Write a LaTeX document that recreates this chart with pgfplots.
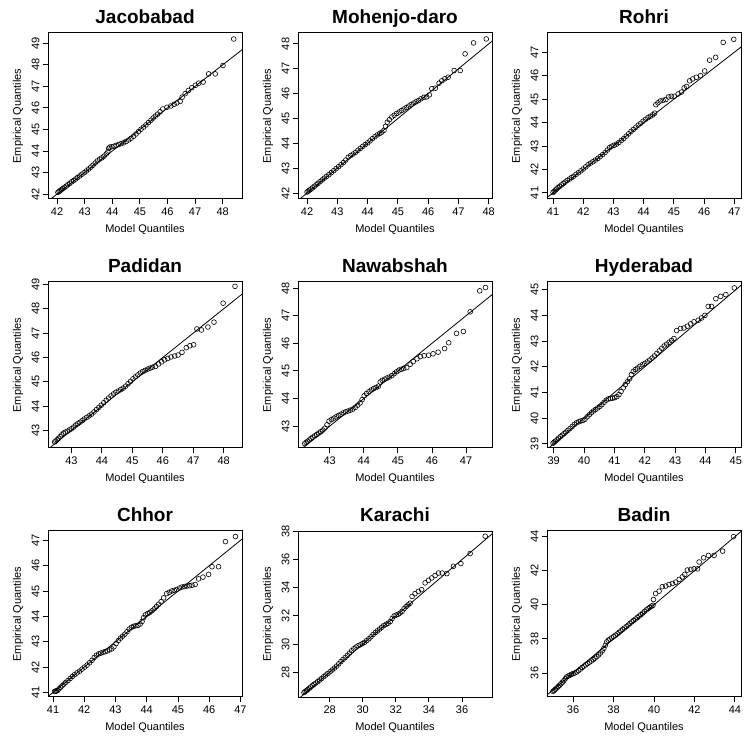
\documentclass[border=0pt]{standalone}
\usepackage{fontspec}
\setmainfont{Liberation Sans}
\usepackage{pgfplots}
\pgfplotsset{compat=1.18}
\newcommand{\lblfont}{\fontsize{11}{13}\selectfont}
\pgfplotsset{
 qq/.style={
  scale only axis, width=194pt, height=166pt, anchor=south west,
  axis line style={line width=1pt},
  tick align=outside, xtick pos=left, ytick pos=left,
  major tick length=5pt,
  every tick/.style={black, line width=0.9pt},
  minor tick num=0, scaled ticks=false,
  /pgf/number format/assume math mode=true,
  yticklabel style={rotate=90, anchor=south, font=\lblfont},
  xticklabel style={anchor=north, font=\lblfont},
  every axis x label/.style={at={(axis description cs:0.5,-0.187)}, anchor=center, font=\lblfont},
  every axis y label/.style={at={(axis description cs:-0.155,0.5)}, rotate=90, anchor=center, font=\lblfont},
  every axis title/.style={at={(axis description cs:0.5,1.06)}, anchor=base, font=\bfseries\fontsize{19}{21}\selectfont},
  xlabel={Model Quantiles}, ylabel={Empirical Quantiles},
 },
 pts/.style={only marks, mark=o, mark size=2.4pt, mark options={line width=0.6pt, black}},
 refl/.style={black, line width=0.8pt, no marks},
}
\begin{document}
\begin{tikzpicture}
\path[use as bounding box] (0,0) rectangle (744pt,742pt);
% ---------- Jacobabad
\begin{axis}[qq, at={(48pt,543pt)}, title={Jacobabad},
 xmin=41.67, xmax=48.70, ymin=41.77, ymax=49.48, xtick={42,43,...,48}, ytick={42,43,...,49}]
\addplot[refl] coordinates {(30,30) (60,60)};
\addplot[pts] coordinates {
(42.03,42.08) (42.07,42.12) (42.11,42.16) (42.16,42.21) (42.21,42.26) (42.27,42.31) (42.33,42.37) (42.39,42.43) (42.46,42.50) (42.53,42.57) (42.60,42.63) (42.67,42.70) (42.74,42.77) (42.82,42.84) (42.90,42.92) (42.98,42.99) (43.06,43.07) (43.14,43.16) (43.22,43.25) (43.30,43.34) (43.38,43.44) (43.46,43.54) (43.54,43.62) (43.62,43.68) (43.70,43.76) (43.78,43.86) (43.84,43.96) (43.87,44.12) (43.91,44.18) (43.98,44.20) (44.06,44.22) (44.14,44.26) (44.23,44.30) (44.32,44.34) (44.41,44.38) (44.50,44.44) (44.59,44.51) (44.68,44.59) (44.77,44.68) (44.86,44.79) (44.95,44.90) (45.04,45.01) (45.13,45.11) (45.22,45.21) (45.31,45.32) (45.40,45.43) (45.48,45.53) (45.56,45.62) (45.64,45.71)
(45.73,45.82) (45.83,45.95) (45.98,46.03) (46.12,46.09) (46.24,46.17) (46.34,46.23) (46.46,46.30) (46.53,46.50) (46.64,46.66) (46.76,46.81) (46.88,46.94) (47.01,47.05) (47.13,47.15) (47.29,47.20) (47.49,47.58) (47.73,47.58) (48.01,47.97) (48.40,49.20)};
\end{axis}
% ---------- Mohenjo-daro
\begin{axis}[qq, at={(298pt,543pt)}, title={Mohenjo-daro},
 xmin=41.70, xmax=48.11, ymin=41.76, ymax=48.44, xtick={42,43,...,48}, ytick={42,43,...,48}]
\addplot[refl] coordinates {(30,30) (60,60)};
\addplot[pts] coordinates {
(42.00,42.04) (42.04,42.08) (42.08,42.12) (42.13,42.16) (42.18,42.21) (42.24,42.27) (42.30,42.33) (42.36,42.39) (42.43,42.46) (42.50,42.53) (42.57,42.60) (42.64,42.67) (42.72,42.74) (42.80,42.82) (42.88,42.90) (42.96,42.98) (43.04,43.06) (43.12,43.14) (43.20,43.23) (43.28,43.33) (43.36,43.44) (43.44,43.51) (43.52,43.57) (43.60,43.64) (43.68,43.72) (43.76,43.80) (43.84,43.88) (43.92,43.95) (44.00,44.02) (44.08,44.10) (44.16,44.19) (44.24,44.27) (44.32,44.34) (44.40,44.40) (44.47,44.45) (44.54,44.52) (44.59,44.68) (44.65,44.85) (44.72,44.95) (44.80,45.06) (44.88,45.13) (44.96,45.20) (45.04,45.26) (45.12,45.32) (45.20,45.38) (45.28,45.44) (45.36,45.50) (45.44,45.56) (45.52,45.62) (45.60,45.67) (45.68,45.72) (45.76,45.79)
(45.86,45.85) (45.95,45.87) (46.04,45.95) (46.12,46.20) (46.24,46.22) (46.36,46.42) (46.45,46.52) (46.55,46.60) (46.66,46.66) (46.86,46.93) (47.06,46.93) (47.22,47.60) (47.50,48.04) (47.92,48.20)};
\end{axis}
% ---------- Rohri
\begin{axis}[qq, at={(547pt,543pt)}, title={Rohri},
 xmin=40.80, xmax=47.22, ymin=40.74, ymax=47.82, xtick={41,42,...,47}, ytick={41,42,...,47}]
\addplot[refl] coordinates {(30,30) (60,60)};
\addplot[pts] coordinates {
(41.00,41.02) (41.04,41.07) (41.08,41.12) (41.12,41.17) (41.17,41.23) (41.22,41.28) (41.28,41.34) (41.34,41.40) (41.40,41.46) (41.47,41.53) (41.54,41.59) (41.61,41.65) (41.68,41.71) (41.76,41.79) (41.84,41.86) (41.92,41.94) (42.00,42.02) (42.08,42.11) (42.16,42.20) (42.24,42.27) (42.32,42.33) (42.40,42.40) (42.48,42.47) (42.56,42.55) (42.64,42.63) (42.72,42.72) (42.80,42.83) (42.87,42.93) (42.94,42.99) (43.02,43.03) (43.10,43.08) (43.18,43.15) (43.26,43.24) (43.34,43.32) (43.42,43.42) (43.50,43.52) (43.58,43.62) (43.66,43.71) (43.74,43.80) (43.82,43.89) (43.90,43.97) (43.98,44.06) (44.06,44.14) (44.14,44.21) (44.22,44.27) (44.30,44.33) (44.36,44.40)
(44.40,44.76) (44.47,44.84) (44.55,44.92) (44.64,44.95) (44.73,44.98) (44.82,45.09) (44.91,45.12) (45.01,45.12) (45.14,45.22) (45.25,45.30) (45.34,45.48) (45.42,45.54) (45.52,45.78) (45.62,45.86) (45.74,45.93) (45.88,46.00) (46.02,46.20) (46.18,46.66) (46.38,46.78) (46.63,47.42) (46.98,47.55)};
\end{axis}
% ---------- Padidan
\begin{axis}[qq, at={(48pt,294pt)}, title={Padidan},
 xmin=42.23, xmax=48.60, ymin=42.28, ymax=49.10, xtick={43,44,...,48}, ytick={43,44,...,49}]
\addplot[refl] coordinates {(30,30) (60,60)};
\addplot[pts] coordinates {
(42.45,42.53) (42.49,42.57) (42.53,42.62) (42.58,42.68) (42.63,42.75) (42.68,42.82) (42.74,42.89) (42.80,42.93) (42.86,42.97) (42.93,43.02) (43.00,43.07) (43.07,43.14) (43.14,43.22) (43.21,43.28) (43.28,43.34) (43.35,43.40) (43.42,43.47) (43.50,43.54) (43.58,43.60) (43.66,43.67) (43.74,43.76) (43.82,43.86) (43.90,43.95) (43.98,44.04) (44.06,44.14) (44.14,44.24) (44.22,44.33) (44.30,44.42) (44.38,44.50) (44.46,44.57) (44.54,44.62) (44.62,44.68) (44.70,44.74) (44.78,44.82) (44.86,44.92) (44.94,45.02) (45.02,45.12) (45.10,45.20) (45.18,45.28) (45.26,45.36) (45.34,45.42) (45.42,45.47) (45.50,45.52) (45.58,45.56) (45.66,45.60)
(45.76,45.63) (45.86,45.73) (45.96,45.82) (46.06,45.90) (46.16,45.96) (46.27,46.02) (46.39,46.06) (46.50,46.10) (46.63,46.21) (46.77,46.40) (46.89,46.48) (47.01,46.52) (47.12,47.17) (47.27,47.13) (47.48,47.25) (47.68,47.45) (47.98,48.23) (48.37,48.92)};
\end{axis}
% ---------- Nawabshah
\begin{axis}[qq, at={(298pt,294pt)}, title={Nawabshah},
 xmin=42.07, xmax=47.76, ymin=42.21, ymax=48.22, xtick={43,44,...,47}, ytick={43,44,...,48}]
\addplot[refl] coordinates {(30,30) (60,60)};
\addplot[pts] coordinates {
(42.27,42.37) (42.31,42.41) (42.35,42.45) (42.40,42.50) (42.45,42.55) (42.50,42.60) (42.56,42.65) (42.62,42.70) (42.68,42.75) (42.74,42.80) (42.80,42.86) (42.86,42.93) (42.92,43.05) (42.98,43.18) (43.05,43.24) (43.12,43.29) (43.19,43.34) (43.26,43.39) (43.33,43.43) (43.40,43.48) (43.47,43.52) (43.54,43.55) (43.61,43.58) (43.68,43.62) (43.75,43.68) (43.82,43.76) (43.89,43.84) (43.95,43.96) (44.01,44.10) (44.08,44.18) (44.15,44.25) (44.22,44.31) (44.29,44.36) (44.36,44.40) (44.43,44.45) (44.48,44.60) (44.54,44.66) (44.61,44.70) (44.68,44.74) (44.75,44.78) (44.82,44.83) (44.89,44.90) (44.96,44.97) (45.03,45.03) (45.10,45.06) (45.17,45.09)
(45.26,45.12) (45.36,45.24) (45.45,45.34) (45.56,45.44) (45.66,45.52) (45.77,45.55) (45.90,45.57) (46.03,45.62) (46.18,45.68) (46.37,45.81) (46.49,46.02) (46.72,46.36) (46.92,46.43) (47.12,47.14) (47.40,47.90) (47.57,48.02)};
\end{axis}
% ---------- Hyderabad
\begin{axis}[qq, at={(547pt,294pt)}, title={Hyderabad},
 xmin=38.78, xmax=45.17, ymin=38.84, ymax=45.30, xtick={39,40,...,45}, ytick={39,40,...,45}]
\addplot[refl] coordinates {(30,30) (60,60)};
\addplot[pts] coordinates {
(38.98,39.03) (39.02,39.07) (39.06,39.11) (39.11,39.16) (39.16,39.22) (39.22,39.28) (39.28,39.34) (39.34,39.40) (39.40,39.46) (39.47,39.53) (39.54,39.60) (39.61,39.68) (39.68,39.76) (39.75,39.82) (39.82,39.86) (39.89,39.89) (39.96,39.91) (40.03,39.96) (40.10,40.05) (40.17,40.13) (40.24,40.21) (40.31,40.28) (40.38,40.34) (40.45,40.40) (40.52,40.46) (40.59,40.53) (40.66,40.62) (40.73,40.70) (40.80,40.75) (40.87,40.77) (40.94,40.78) (41.01,40.80) (41.08,40.84) (41.15,40.92) (41.22,41.04) (41.29,41.18) (41.36,41.31) (41.43,41.42) (41.50,41.53) (41.56,41.70) (41.62,41.82) (41.69,41.89) (41.76,41.95) (41.84,42.02) (41.92,42.08) (42.00,42.13) (42.08,42.19) (42.16,42.26) (42.24,42.34) (42.32,42.42) (42.40,42.52) (42.48,42.62) (42.56,42.72) (42.64,42.81) (42.72,42.88) (42.80,42.95) (42.88,43.03) (42.96,43.10)
(43.05,43.41) (43.18,43.49) (43.29,43.51) (43.40,43.58) (43.51,43.67) (43.62,43.75) (43.76,43.81) (43.87,43.90) (43.98,44.00) (44.09,44.35) (44.20,44.35) (44.34,44.65) (44.50,44.74) (44.67,44.81) (44.95,45.07)};
\end{axis}
% ---------- Chhor
\begin{axis}[qq, at={(48pt,45pt)}, title={Chhor},
 xmin=40.84, xmax=47.05, ymin=40.82, ymax=47.37, xtick={41,42,...,47}, ytick={41,42,...,47}]
\addplot[refl] coordinates {(30,30) (60,60)};
\addplot[pts] coordinates {
(41.05,41.04) (41.08,41.05) (41.11,41.06) (41.15,41.08) (41.19,41.14) (41.24,41.20) (41.29,41.26) (41.35,41.33) (41.41,41.40) (41.48,41.47) (41.55,41.55) (41.62,41.63) (41.69,41.70) (41.77,41.77) (41.85,41.84) (41.93,41.92) (42.01,42.00) (42.09,42.08) (42.17,42.17) (42.25,42.27) (42.32,42.38) (42.39,42.47) (42.46,42.52) (42.53,42.55) (42.60,42.58) (42.67,42.61) (42.74,42.64) (42.81,42.68) (42.88,42.72) (42.95,42.80) (43.02,42.93) (43.09,43.05) (43.16,43.14) (43.23,43.22) (43.30,43.30) (43.37,43.40) (43.44,43.50) (43.51,43.57) (43.58,43.61) (43.65,43.63) (43.72,43.65) (43.79,43.70) (43.85,43.80) (43.90,43.95) (43.96,44.06) (44.03,44.11) (44.10,44.16) (44.17,44.22) (44.24,44.30) (44.31,44.39) (44.38,44.48)
(44.46,44.58) (44.54,44.73) (44.64,44.90) (44.72,44.95) (44.80,45.00) (44.88,45.03) (44.96,45.06) (45.05,45.12) (45.13,45.16) (45.21,45.18) (45.29,45.20) (45.37,45.21) (45.45,45.23) (45.55,45.26) (45.66,45.48) (45.80,45.55) (45.98,45.66) (46.09,45.96) (46.30,45.96) (46.52,46.95) (46.84,47.15)};
\end{axis}
% ---------- Karachi
\begin{axis}[qq, at={(298pt,45pt)}, title={Karachi},
 xmin=26.09, xmax=37.81, ymin=26.25, ymax=38.02, xtick={28,30,...,36}, ytick={28,30,...,38}]
\addplot[refl] coordinates {(20,20) (50,50)};
\addplot[pts] coordinates {
(26.45,26.57) (26.52,26.63) (26.60,26.70) (26.68,26.78) (26.77,26.87) (26.86,26.96) (26.96,27.06) (27.06,27.15) (27.17,27.24) (27.28,27.34) (27.40,27.45) (27.52,27.57) (27.64,27.69) (27.77,27.81) (27.90,27.92) (28.03,28.04) (28.16,28.17) (28.29,28.30) (28.42,28.44) (28.55,28.60) (28.68,28.76) (28.81,28.91) (28.94,29.05) (29.07,29.20) (29.20,29.36) (29.33,29.53) (29.46,29.67) (29.59,29.79) (29.72,29.88) (29.85,29.95) (29.98,30.04) (30.11,30.13) (30.24,30.25) (30.37,30.38) (30.50,30.52) (30.63,30.68) (30.76,30.82) (30.89,30.94) (31.02,31.07) (31.15,31.20) (31.28,31.32) (31.41,31.40) (31.54,31.48) (31.66,31.60) (31.78,31.82) (31.90,32.00) (32.02,32.06) (32.14,32.12) (32.26,32.20) (32.38,32.32) (32.50,32.52) (32.62,32.66) (32.74,32.78) (32.86,32.90)
(32.98,33.38) (33.16,33.58) (33.36,33.74) (33.56,33.86) (33.77,34.34) (33.97,34.52) (34.17,34.69) (34.37,34.86) (34.58,35.04) (34.80,35.04) (35.08,35.00) (35.48,35.52) (35.93,35.71) (36.49,36.42) (37.40,37.65)};
\end{axis}
% ---------- Badin
\begin{axis}[qq, at={(547pt,45pt)}, title={Badin},
 xmin=34.71, xmax=44.30, ymin=34.59, ymax=44.33, xtick={36,38,...,44}, ytick={36,38,...,44}]
\addplot[refl] coordinates {(20,20) (50,50)};
\addplot[pts] coordinates {
(35.00,34.92) (35.06,34.97) (35.12,35.04) (35.19,35.12) (35.26,35.20) (35.33,35.28) (35.40,35.37) (35.47,35.45) (35.54,35.54) (35.61,35.66) (35.68,35.77) (35.76,35.82) (35.84,35.87) (35.92,35.92) (36.00,35.96) (36.09,36.00) (36.18,36.06) (36.27,36.14) (36.36,36.23) (36.45,36.32) (36.54,36.40) (36.63,36.48) (36.72,36.56) (36.81,36.63) (36.90,36.70) (36.99,36.78) (37.08,36.87) (37.17,36.96) (37.26,37.06) (37.35,37.17) (37.44,37.30) (37.52,37.45) (37.59,37.62) (37.66,37.82) (37.74,37.92) (37.82,37.99) (37.91,38.06) (38.00,38.13) (38.09,38.21) (38.18,38.29) (38.27,38.38) (38.36,38.47) (38.45,38.56) (38.54,38.64) (38.63,38.72) (38.72,38.81) (38.81,38.91) (38.90,39.00) (38.99,39.08) (39.08,39.16) (39.17,39.25) (39.26,39.33) (39.35,39.42) (39.44,39.51) (39.53,39.61) (39.62,39.70) (39.71,39.78) (39.80,39.86) (39.88,39.92) (39.95,39.97)
(39.97,40.31) (40.08,40.66) (40.25,40.80) (40.41,41.06) (40.58,41.10) (40.74,41.19) (40.91,41.25) (41.07,41.33) (41.24,41.49) (41.40,41.64) (41.52,41.78) (41.65,42.04) (41.82,42.08) (41.98,42.11) (42.15,42.11) (42.23,42.51) (42.45,42.76) (42.69,42.90) (42.97,42.90) (43.39,43.15) (43.93,44.00)};
\end{axis}
\end{tikzpicture}
\end{document}
